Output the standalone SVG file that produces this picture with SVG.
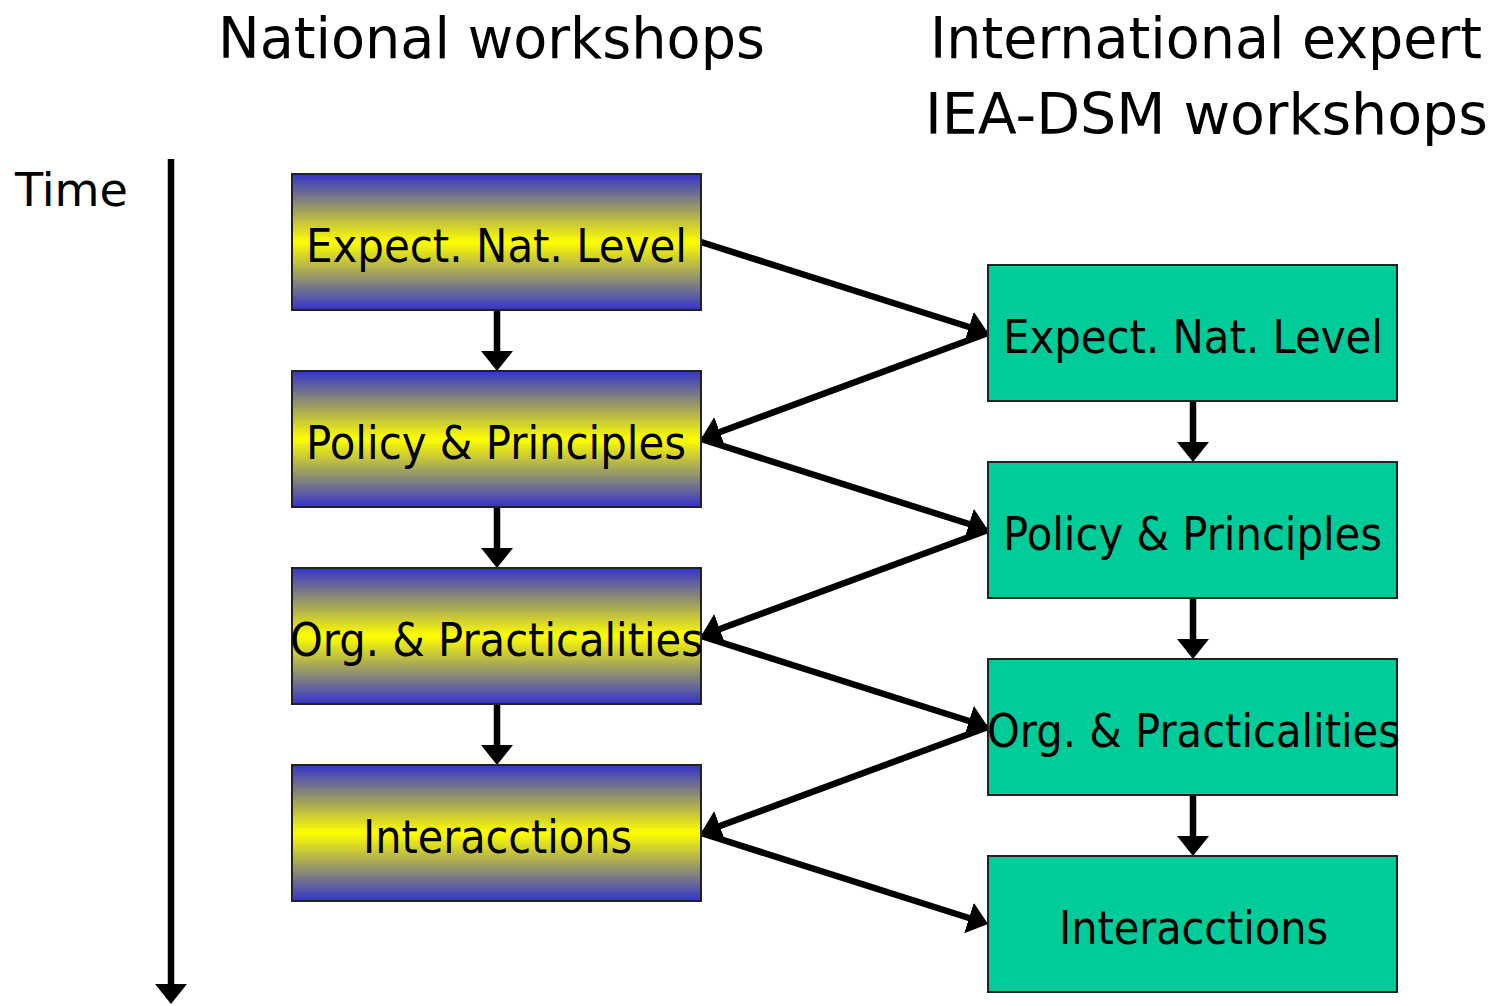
<svg xmlns="http://www.w3.org/2000/svg" width="1501" height="1006" viewBox="0 0 1501 1006">
<style>
.title{font-family:"DejaVu Sans","Liberation Sans",sans-serif;font-size:57px;fill:#000}
.lbl{font-family:"DejaVu Sans","Liberation Sans",sans-serif;font-size:46px;fill:#000;text-anchor:start}
.nat{fill:url(#gy);stroke:#222;stroke-width:2}
.int{fill:#00CC99;stroke:#222;stroke-width:2}
.con{stroke:#000;stroke-width:6.5;fill:none;marker-end:url(#ah)}
</style>
<defs>
<linearGradient id="gy" x1="0" y1="0" x2="0" y2="1">
<stop offset="0" stop-color="#3333CC"/>
<stop offset="0.5" stop-color="#FFFF00"/>
<stop offset="1" stop-color="#3333CC"/>
</linearGradient>
<marker id="ah" viewBox="0 0 20 32" refX="10" refY="16" markerWidth="20" markerHeight="32" markerUnits="userSpaceOnUse" orient="auto">
<path d="M0,0 L20,16 L0,32 z" fill="#000"/>
</marker>
</defs>
<text class="title" x="218" y="58" textLength="547" lengthAdjust="spacingAndGlyphs">National workshops</text>
<text class="title" x="930" y="58" textLength="552" lengthAdjust="spacingAndGlyphs">International expert</text>
<text class="title" x="925" y="134" textLength="563" lengthAdjust="spacingAndGlyphs">IEA-DSM workshops</text>
<text class="lbl" x="15" y="206" textLength="113" lengthAdjust="spacingAndGlyphs">Time</text>
<g id="connectors">
<path class="con" d="M171,159 L171,994"/>
<path class="con" d="M497,310 L497,361"/>
<path class="con" d="M497,507 L497,558"/>
<path class="con" d="M497,704 L497,755"/>
<path class="con" d="M1193,401 L1193,452"/>
<path class="con" d="M1193,598 L1193,649"/>
<path class="con" d="M1193,795 L1193,846"/>
<path class="con" d="M701,242 L978.5,330"/>
<path class="con" d="M988,333 L710.4,435.5"/>
<path class="con" d="M701,439 L978.5,527"/>
<path class="con" d="M988,530 L710.4,632.5"/>
<path class="con" d="M701,636 L978.5,724"/>
<path class="con" d="M988,727 L710.4,829.5"/>
<path class="con" d="M701,833 L978.5,921"/>
</g>
<g id="n1"><rect class="nat" x="292" y="174" width="409" height="136"/><text class="lbl" x="306" y="262" textLength="381" lengthAdjust="spacingAndGlyphs">Expect. Nat. Level</text></g>
<g id="n2"><rect class="nat" x="292" y="371" width="409" height="136"/><text class="lbl" x="306" y="459" textLength="380" lengthAdjust="spacingAndGlyphs">Policy &amp; Principles</text></g>
<g id="n3"><rect class="nat" x="292" y="568" width="409" height="136"/><text class="lbl" x="290" y="656" textLength="413" lengthAdjust="spacingAndGlyphs">Org. &amp; Practicalities</text></g>
<g id="n4"><rect class="nat" x="292" y="765" width="409" height="136"/><text class="lbl" x="363" y="853" textLength="269" lengthAdjust="spacingAndGlyphs">Interacctions</text></g>
<g id="i1"><rect class="int" x="988" y="265" width="409" height="136"/><text class="lbl" x="1003" y="353" textLength="380" lengthAdjust="spacingAndGlyphs">Expect. Nat. Level</text></g>
<g id="i2"><rect class="int" x="988" y="462" width="409" height="136"/><text class="lbl" x="1003" y="550" textLength="379" lengthAdjust="spacingAndGlyphs">Policy &amp; Principles</text></g>
<g id="i3"><rect class="int" x="988" y="659" width="409" height="136"/><text class="lbl" x="987" y="747" textLength="413" lengthAdjust="spacingAndGlyphs">Org. &amp; Practicalities</text></g>
<g id="i4"><rect class="int" x="988" y="856" width="409" height="136"/><text class="lbl" x="1059" y="944" textLength="269" lengthAdjust="spacingAndGlyphs">Interacctions</text></g>
</svg>
